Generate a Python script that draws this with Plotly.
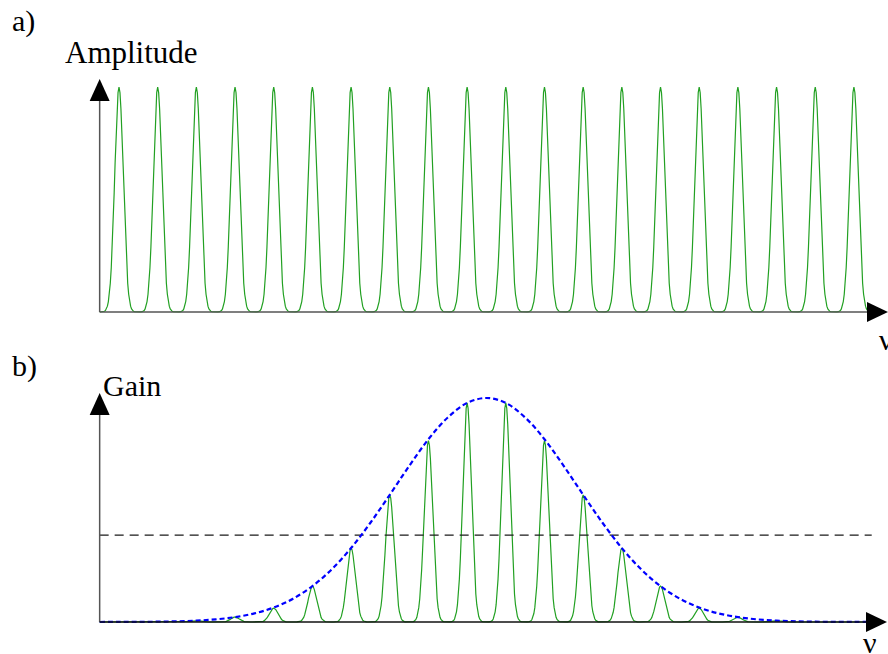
import plotly.graph_objects as go

# ---------------- data ----------------
# longitudinal modes (index units, mode spacing = 1)
mode_index = list(range(20))
# a) equal amplitudes of the comb
amp_a = [1.0] * 20
# b) gain-weighted mode heights (relative to envelope maximum)
gain_b = [0.0, 0.001, 0.006, 0.022, 0.062, 0.16, 0.33, 0.567, 0.81, 0.978,
          0.978, 0.81, 0.567, 0.33, 0.16, 0.062, 0.022, 0.006, 0.001, 0.0]
# single-mode line profile (one half, offset from mode centre -> relative level)
profile_offset = [0.0, 0.025, 0.05, 0.075, 0.1, 0.125, 0.15, 0.175, 0.2, 0.225,
                  0.25, 0.275, 0.3, 0.325, 0.35, 0.375, 0.4, 0.45, 0.5]
profile_level = [1.0, 0.975, 0.903, 0.796, 0.666, 0.53, 0.401, 0.289, 0.197, 0.128,
                 0.079, 0.0465, 0.026, 0.0137, 0.0069, 0.0033, 0.0015, 0.0003, 0.0]
# gain envelope (blue dashed), sampled along the frequency axis
env_x = [-0.5, 0.0, 0.5, 1.0, 1.5, 2.0, 2.5, 3.0, 3.5, 4.0, 4.5, 5.0, 5.5, 6.0,
         6.5, 7.0, 7.5, 8.0, 8.5, 9.0, 9.5, 10.0, 10.5, 11.0, 11.5, 12.0, 12.5,
         13.0, 13.5, 14.0, 14.5, 15.0, 15.5, 16.0, 16.5, 17.0, 17.5, 18.0, 18.5,
         19.0, 19.5]
env_y = [0.0001, 0.0003, 0.0007, 0.0014, 0.003, 0.0061, 0.0118, 0.0218, 0.0384,
         0.0646, 0.104, 0.16, 0.235, 0.33, 0.443, 0.568, 0.696, 0.816, 0.913,
         0.978, 1.0, 0.978, 0.913, 0.816, 0.696, 0.568, 0.443, 0.33, 0.235, 0.16,
         0.104, 0.0646, 0.0384, 0.0218, 0.0118, 0.0061, 0.003, 0.0014, 0.0007,
         0.0003, 0.0001]
threshold_level = 0.388
threshold_x = [-0.5, 19.46]
comb_x_range = [-0.5, 19.35]

# ---------------- geometry (pixels of the 888x654 canvas) ----------------
W, H = 888, 654
PX0, PXU = 119.0, 38.68          # pixel of mode 0 and pixels per mode spacing
A_BASE, A_UNIT = 312.0, 225.0    # panel a baseline pixel and pixels per unit
B_BASE, B_UNIT = 622.0, 224.0    # panel b baseline pixel and pixels per unit

x_range = [-PX0 / PXU, (W - PX0) / PXU]
ya_range = [-(H - A_BASE) / A_UNIT, A_BASE / A_UNIT]
yb_range = [-(H - B_BASE) / B_UNIT, B_BASE / B_UNIT]


def px_x(px):
    return (px - PX0) / PXU


def comb(amps):
    offs = [-o for o in profile_offset[::-1]] + profile_offset[1:]
    levs = profile_level[::-1] + profile_level[1:]
    xs, ys = [], []
    for c, a in zip(mode_index, amps):
        for o, l in zip(offs, levs):
            x = c + o
            if comb_x_range[0] <= x <= comb_x_range[1]:
                xs.append(x)
                ys.append(a * l)
    return xs, ys


GREEN = "#22a022"
fig = go.Figure()

xa, ya = comb(amp_a)
fig.add_trace(go.Scatter(x=xa, y=ya, mode="lines", yaxis="y",
                         line=dict(color=GREEN, width=1.2), hoverinfo="skip"))

xb, yb = comb(gain_b)
fig.add_trace(go.Scatter(x=xb, y=yb, mode="lines", yaxis="y2",
                         line=dict(color=GREEN, width=1.2), hoverinfo="skip"))

fig.add_trace(go.Scatter(x=threshold_x, y=[threshold_level] * 2, mode="lines",
                         yaxis="y2", line=dict(color="#1a1a1a", width=1.1, dash="9px,6px"),
                         hoverinfo="skip"))

fig.add_trace(go.Scatter(x=env_x, y=env_y, mode="lines", yaxis="y2",
                         line=dict(color="#0000ff", width=2.2, dash="5px,3px",
                                   shape="spline", smoothing=1.0),
                         hoverinfo="skip"))

# ---------------- axes drawn as arrows ----------------
shapes = []
x0 = comb_x_range[0]
hw_x = 10 / PXU  # arrowhead half width in x units


def add_axes(yref, base_px, unit, ytip_px, xtip_px, axis_col_y, axis_col_x):
    ytip = (base_px - ytip_px) / unit
    ybase = (base_px - (ytip_px + 22)) / unit
    xtip = px_x(xtip_px)
    xbase = px_x(xtip_px - 21)
    hh = 10 / unit
    shapes.append(dict(type="line", xref="x", yref=yref, x0=x0, y0=0, x1=x0, y1=ybase,
                       line=dict(color=axis_col_y, width=1.5)))
    shapes.append(dict(type="line", xref="x", yref=yref, x0=x0, y0=0, x1=xbase, y1=0,
                       line=dict(color=axis_col_x, width=1.5)))
    shapes.append(dict(type="path", xref="x", yref=yref,
                       path=f"M {x0 - hw_x} {ybase} L {x0} {ytip} L {x0 + hw_x} {ybase} Z",
                       fillcolor="black", line=dict(color="black", width=0)))
    shapes.append(dict(type="path", xref="x", yref=yref,
                       path=f"M {xbase} {-hh} L {xtip} 0 L {xbase} {hh} Z",
                       fillcolor="black", line=dict(color="black", width=0)))


add_axes("y", A_BASE, A_UNIT, 79, 888, "#555555", "#555555")
add_axes("y2", B_BASE, B_UNIT, 393, 887, "#555555", "#111111")

FAMILY = "Liberation Serif, Times New Roman, serif"


def label(text, px, py, size=30, xanchor="left"):
    return dict(text=text, xref="paper", yref="paper", x=px / W, y=1 - py / H,
                xanchor=xanchor, yanchor="middle", showarrow=False,
                font=dict(family=FAMILY, size=size, color="black"))


annotations = [
    label("a)", 10, 21),
    label("Amplitude", 63, 52, size=31),
    label("ν", 877, 340),
    label("b)", 10, 366),
    label("Gain", 101, 385),
    label("ν", 861, 642),
]

fig.update_layout(
    width=W, height=H, margin=dict(l=0, r=0, t=0, b=0),
    paper_bgcolor="white", plot_bgcolor="white", showlegend=False,
    xaxis=dict(range=x_range, visible=False, fixedrange=True),
    yaxis=dict(range=ya_range, visible=False, fixedrange=True),
    yaxis2=dict(range=yb_range, visible=False, overlaying="y", fixedrange=True),
    shapes=shapes, annotations=annotations,
)

fig.write_html("out.html", post_script="document.body.style.margin='0';",
               config=dict(displayModeBar=False))
